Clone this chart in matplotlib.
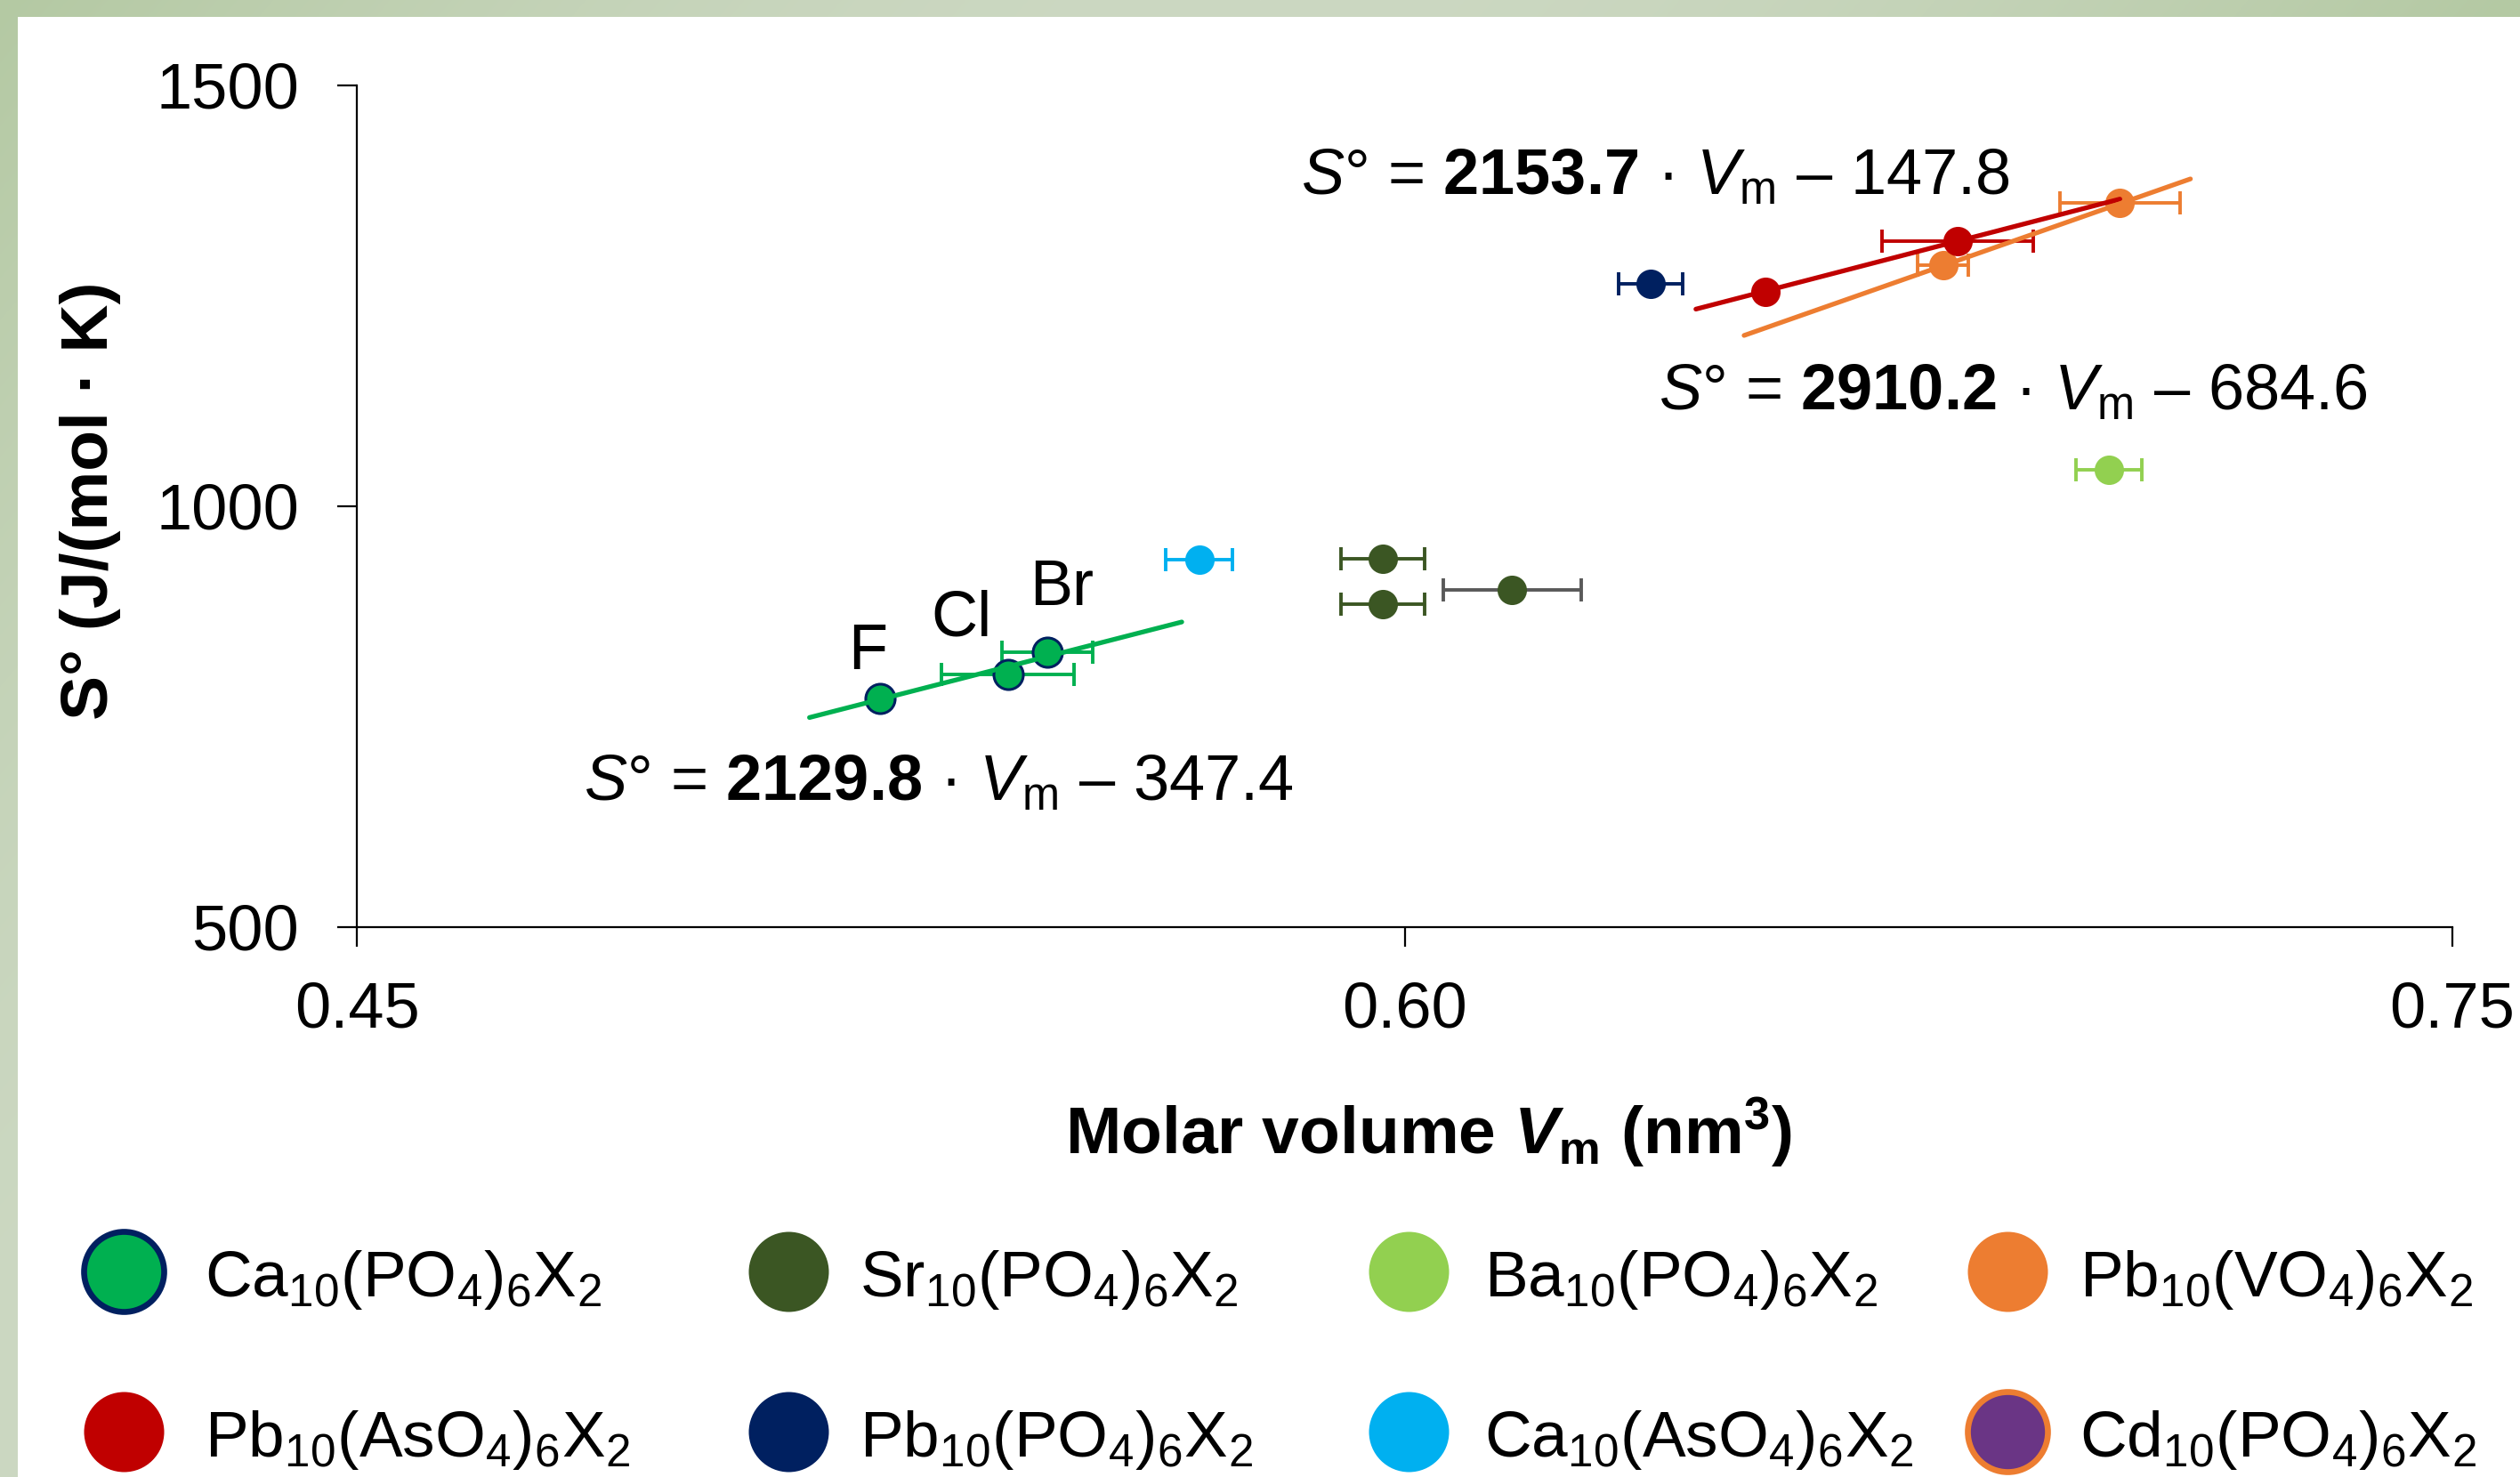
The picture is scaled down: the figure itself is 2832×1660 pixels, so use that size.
import numpy as np
import matplotlib
matplotlib.use("Agg")
import matplotlib.pyplot as plt
from matplotlib.patches import Rectangle

plt.rcParams.update({
    "font.family": ["Liberation Sans", "DejaVu Sans"],
    "mathtext.fontset": "custom",
    "mathtext.rm": "Liberation Sans",
    "mathtext.it": "Liberation Sans:italic",
    "mathtext.bf": "Liberation Sans:bold",
    "mathtext.bfit": "Liberation Sans:italic:bold",
    "mathtext.sf": "Liberation Sans",
})

# ---- data: molar volume Vm (nm^3), standard entropy S (J/(mol K)), Vm uncertainty ----
ca_po4_vm = [0.5249, 0.5432, 0.5489]
ca_po4_s = [771.7, 800.0, 827.0]
ca_po4_err = [0.0, 0.0095, 0.0065]
halide_labels = ["F", "Cl", "Br"]
halide_label_pos = [(0.5231, 806.6), (0.5366, 845.7), (0.5509, 882.7)]

sr_po4_vm = [0.5969, 0.5969, 0.6154]
sr_po4_s = [938.0, 883.7, 900.3]
sr_po4_err = [0.0060, 0.0060, 0.0099]

ba_po4_vm = [0.7008]
ba_po4_s = [1043.0]
ba_po4_err = [0.0047]

pb_vo4_vm = [0.6771, 0.7024]
pb_vo4_s = [1286.0, 1360.0]
pb_vo4_err = [0.0036, 0.0086]

pb_aso4_vm = [0.6517, 0.6792]
pb_aso4_s = [1255.0, 1315.0]
pb_aso4_err = [0.0, 0.0108]

pb_po4_vm = [0.6352]
pb_po4_s = [1264.3]
pb_po4_err = [0.0046]

ca_aso4_vm = [0.5706]
ca_aso4_s = [936.6]
ca_aso4_err = [0.0048]

# linear fits S = slope * Vm + intercept, drawn over the given Vm range
fit_slopes = [2129.8, 2153.7, 2910.2]
fit_intercepts = [-347.4, -147.8, -684.6]
fit_ranges = [(0.5148, 0.5681), (0.6417, 0.7024), (0.6486, 0.7125)]
fit_label_pos = [(0.4825, 650.0), (0.5852, 1370.0), (0.6364, 1115.0)]

x_ticks = [0.45, 0.60, 0.75]
x_tick_labels = ["0.45", "0.60", "0.75"]
y_ticks = [500, 1000, 1500]
y_tick_labels = ["500", "1000", "1500"]

legend_labels = [
    r"Ca$_{10}$(PO$_4$)$_6$X$_2$", r"Sr$_{10}$(PO$_4$)$_6$X$_2$",
    r"Ba$_{10}$(PO$_4$)$_6$X$_2$", r"Pb$_{10}$(VO$_4$)$_6$X$_2$",
    r"Pb$_{10}$(AsO$_4$)$_6$X$_2$", r"Pb$_{10}$(PO$_4$)$_6$X$_2$",
    r"Ca$_{10}$(AsO$_4$)$_6$X$_2$", r"Cd$_{10}$(PO$_4$)$_6$X$_2$",
]

# ---- colours ----
C_CA = "#00B050"
C_SR = "#3B5623"
C_BA = "#92D050"
C_PBV = "#ED7D31"
C_PBAS = "#C00000"
C_PBP = "#002060"
C_CAAS = "#00B0F0"
C_CD = "#6A3585"
C_GREY = "#595959"

legend_face = [C_CA, C_SR, C_BA, C_PBV, C_PBAS, C_PBP, C_CAAS, C_CD]
legend_edge = [C_PBP, C_SR, C_BA, C_PBV, C_PBAS, C_PBP, C_CAAS, C_PBV]
legend_edge_w = [2.4, 0, 0, 0, 0, 0, 0, 2.4]

W, H, DPI = 2832, 1660, 200
fig = plt.figure(figsize=(W / DPI, H / DPI), dpi=DPI)

# soft green frame along the top and left edges
yy, xx = np.mgrid[0:H, 0:W]
u = np.clip(xx / W + 0.5 * yy / H, 0, 1)
t = np.sin(np.pi * u)[..., None]
dark = np.array([180, 201, 163], dtype=float)
light = np.array([204, 216, 194], dtype=float)
bg = (dark + (light - dark) * t).astype(np.uint8)
fig.figimage(bg, xo=0, yo=0, origin="upper", zorder=-10)
fig.add_artist(Rectangle((20 / W, 0), 1 - 20 / W, 1 - 19 / H,
                         transform=fig.transFigure, facecolor="white",
                         edgecolor="none", zorder=-5))

ax = fig.add_axes([401 / W, 1 - 1042 / H, (2756 - 401) / W, (1042 - 96) / H])
ax.set_facecolor("none")
ax.set_xlim(0.45, 0.75)
ax.set_ylim(500, 1500)
for side in ("top", "right"):
    ax.spines[side].set_visible(False)
for side in ("left", "bottom"):
    ax.spines[side].set_linewidth(0.8)
ax.set_xticks(x_ticks, x_tick_labels)
ax.set_yticks(y_ticks, y_tick_labels)
ax.tick_params(axis="both", direction="out", length=7.9, width=0.8,
               labelsize=26)
ax.tick_params(axis="x", pad=14)
ax.tick_params(axis="y", pad=15.5)

MS = 11.9
EB = dict(fmt="o", ms=MS, elinewidth=1.4, capsize=4.6, capthick=1.4, zorder=3)


def series(vm, s, err, face, edge, ecolor, mew=0.0):
    for v, y, e, ec in zip(vm, s, err, ecolor):
        cont = ax.errorbar([v], [y], xerr=[e], mfc=face, mec=edge,
                           ecolor=ec, **EB)
        cont.lines[0].set_markeredgewidth(mew)


series(ca_aso4_vm, ca_aso4_s, ca_aso4_err, C_CAAS, C_CAAS, [C_CAAS])
series(sr_po4_vm, sr_po4_s, sr_po4_err, C_SR, C_SR, [C_SR, C_SR, C_GREY])
series(ba_po4_vm, ba_po4_s, ba_po4_err, C_BA, C_BA, [C_BA])
series(pb_po4_vm, pb_po4_s, pb_po4_err, C_PBP, C_PBP, [C_PBP])
series(pb_vo4_vm, pb_vo4_s, pb_vo4_err, C_PBV, C_PBV, [C_PBV] * 2)
series(pb_aso4_vm, pb_aso4_s, pb_aso4_err, C_PBAS, C_PBAS, [C_PBAS] * 2)
series(ca_po4_vm, ca_po4_s, ca_po4_err, C_CA, C_PBP, [C_CA] * 3, mew=1.1)

# trend lines
for i, col in enumerate([C_CA, C_PBAS, C_PBV]):
    xv = np.array(fit_ranges[i])
    ax.plot(xv, fit_slopes[i] * xv + fit_intercepts[i], color=col, lw=1.9,
            solid_capstyle="round", zorder=4)

for i, (k, b) in enumerate(zip(fit_slopes, fit_intercepts)):
    txt = (r"$\mathit{S}$° = $\mathbf{%.1f}$ · $\mathit{V}_\mathrm{m}$ – %.1f"
           % (k, -b))
    ax.text(*fit_label_pos[i], txt, fontsize=26, ha="left", va="baseline",
            zorder=5)

for lab, (lx, ly) in zip(halide_labels, halide_label_pos):
    ax.text(lx, ly, lab, fontsize=26, ha="center", va="baseline", zorder=5)

# axis titles
fig.text(1606 / W, 1 - 1297 / H,
         r"Molar volume $\mathbfit{V}_\mathbf{m}$ (nm$^\mathbf{3}$)",
         fontsize=27, fontweight="bold", ha="center", va="baseline")
fig.text(102 / W, 1 - 563 / H, "S° (J/(mol · K)", fontsize=27,
         fontweight="bold", rotation=90, ha="center", va="center")

# legend laid out in two rows of four
lax = fig.add_axes([0, 0, 1, 1])
lax.set_xlim(0, W)
lax.set_ylim(H, 0)
lax.axis("off")
col_marker_x = [139, 886, 1583, 2256]
col_text_x = [230, 966, 1668, 2337]
row_y = [1429, 1609]
for j, lab in enumerate(legend_labels):
    r, c = divmod(j, 4)
    lax.plot([col_marker_x[c]], [row_y[r]], "o", ms=32.4,
             mfc=legend_face[j], mec=legend_edge[j], mew=legend_edge_w[j])
    lax.text(col_text_x[c], row_y[r] + 28, lab, fontsize=26.3,
             ha="left", va="baseline")

fig.savefig("out.png", dpi=DPI)
